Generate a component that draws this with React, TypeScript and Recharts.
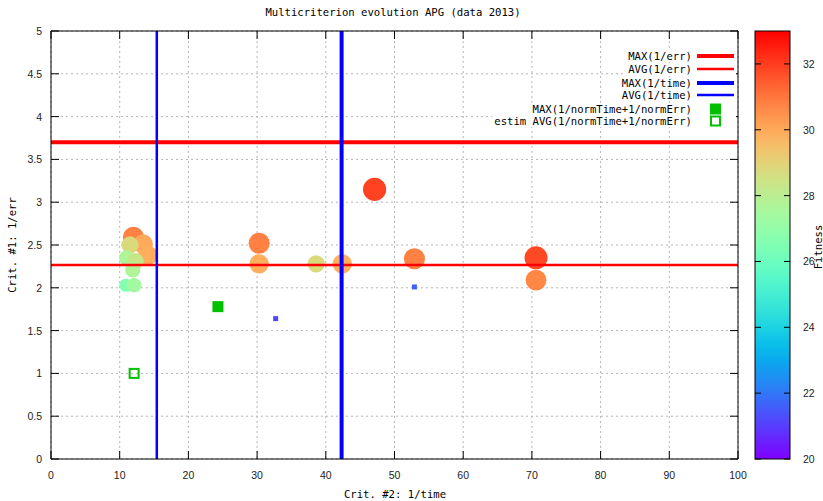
import React from "react";
import {
  ScatterChart,
  Scatter,
  XAxis,
  YAxis,
  CartesianGrid,
  ReferenceLine,
  ReferenceArea,
} from "recharts";

const W = 823;
const H = 501;
const PLOT = { left: 51, top: 31, right: 738, bottom: 459 };

// population: crit #2 (1/time), crit #1 (1/err), fitness
const popTime = [12.0, 13.4, 11.5, 14.1, 11.0, 12.3, 11.9, 10.9, 12.1, 30.3, 30.3, 38.6, 42.4, 47.1, 52.9, 52.9, 32.7, 70.6, 70.6];
const popErr = [2.59, 2.51, 2.5, 2.38, 2.35, 2.31, 2.21, 2.03, 2.03, 2.52, 2.28, 2.28, 2.28, 3.15, 2.34, 2.01, 1.64, 2.35, 2.09];
const popFitness = [30.8, 30.0, 28.8, 29.9, 27.7, 28.3, 27.7, 26.6, 27.4, 30.8, 29.9, 28.8, 29.9, 31.9, 30.8, 21.6, 21.2, 31.8, 30.7];

const maxErr = 3.7;
const avgErr = 2.265;
const maxTime = 42.3;
const avgTime = 15.4;

const bestPoint = [{ x: 24.3, y: 1.78 }];
const estimPoint = [{ x: 12.1, y: 1.0 }];

const xTicks = [0, 10, 20, 30, 40, 50, 60, 70, 80, 90, 100];
const yTicks = [0, 0.5, 1, 1.5, 2, 2.5, 3, 3.5, 4, 4.5, 5];
const cbTicks = [20, 22, 24, 26, 28, 30, 32];
const cbMin = 20;
const cbMax = 33;

const legendItems = [
  { label: "MAX(1/err)", kind: "line", color: "#ff0000", width: 4 },
  { label: "AVG(1/err)", kind: "line", color: "#ff0000", width: 2.5 },
  { label: "MAX(1/time)", kind: "line", color: "#0000ff", width: 4 },
  { label: "AVG(1/time)", kind: "line", color: "#0000ff", width: 2.5 },
  { label: "MAX(1/normTime+1/normErr)", kind: "fill", color: "#00c000", width: 0 },
  { label: "estim AVG(1/normTime+1/normErr)", kind: "open", color: "#00c000", width: 0 },
];

const population = popTime.map((x, i) => ({ x, y: popErr[i], fitness: popFitness[i] }));

const MONO = "'DejaVu Sans Mono', monospace";
const SANS = "'Liberation Sans', Arial, sans-serif";

// gnuplot rgbformulae 33,13,10
const palette = (v: number) => {
  const t = Math.min(1, Math.max(0, (v - cbMin) / (cbMax - cbMin)));
  const c = (n: number) => Math.round(Math.min(1, Math.max(0, n)) * 255);
  const r = c(Math.abs(2 * t - 0.5));
  const g = c(Math.sin(Math.PI * t));
  const b = c(Math.cos((Math.PI / 2) * t));
  return `rgb(${r},${g},${b})`;
};

const PopDot = (props: any) => {
  const { cx, cy, payload } = props;
  if (cx == null || cy == null) return null;
  const f = payload.fitness;
  if (f < 23) {
    return <rect x={cx - 2.5} y={cy - 2.5} width={5} height={5} fill={palette(f)} />;
  }
  const r = 0.95 * (f - cbMin) + 0.3;
  return <circle cx={cx} cy={cy} r={r} fill={palette(f)} />;
};

const BestDot = (props: any) => {
  const { cx, cy } = props;
  return <rect x={cx - 5.5} y={cy - 5.5} width={11} height={11} fill="#00c000" />;
};

const EstimDot = (props: any) => {
  const { cx, cy } = props;
  return <rect x={cx - 4.5} y={cy - 4.5} width={9} height={9} fill="none" stroke="#00c000" strokeWidth={2} />;
};

const XTick = (props: any) => {
  const { x, payload } = props;
  return (
    <g>
      <line x1={x} x2={x} y1={PLOT.bottom} y2={PLOT.bottom - 8} stroke="#000" />
      <line x1={x} x2={x} y1={PLOT.top} y2={PLOT.top + 8} stroke="#000" />
      <text x={x} y={PLOT.bottom + 20} textAnchor="middle" fontFamily={SANS} fontSize={10.5} fill="#222">
        {payload.value}
      </text>
    </g>
  );
};

const YTick = (props: any) => {
  const { y, payload } = props;
  return (
    <g>
      <line x1={PLOT.left} x2={PLOT.left + 8} y1={y} y2={y} stroke="#000" />
      <line x1={PLOT.right} x2={PLOT.right - 8} y1={y} y2={y} stroke="#000" />
      <text x={PLOT.left - 9} y={y + 4} textAnchor="end" fontFamily={SANS} fontSize={10.5} fill="#222">
        {payload.value}
      </text>
    </g>
  );
};

const Overlay = () => {
  const cb = { left: 755, right: 790, top: PLOT.top, bottom: PLOT.bottom };
  const cbY = (v: number) => cb.bottom - ((v - cbMin) / (cbMax - cbMin)) * (cb.bottom - cb.top);
  const stops = Array.from({ length: 27 }, (_, i) => i / 26);
  const rowY = [56, 69, 83, 95, 109, 121];
  return (
    <svg width={W} height={H} style={{ position: "absolute", left: 0, top: 0, pointerEvents: "none" }}>
      <defs>
        <linearGradient id="cbgrad" x1="0" y1="1" x2="0" y2="0">
          {stops.map((s) => (
            <stop key={s} offset={s} stopColor={palette(cbMin + s * (cbMax - cbMin))} />
          ))}
        </linearGradient>
      </defs>
      <text x={393} y={16} textAnchor="middle" fontFamily={MONO} fontSize={10.6} fill="#000">
        Multicriterion evolution APG (data 2013)
      </text>
      <text x={395} y={498} textAnchor="middle" fontFamily={MONO} fontSize={10.6} fill="#000">
        Crit. #2: 1/time
      </text>
      <text
        transform="translate(16,245) rotate(-90)"
        textAnchor="middle"
        fontFamily={MONO}
        fontSize={10.6}
        fill="#000"
      >
        Crit. #1: 1/err
      </text>

      {legendItems.map((it, i) => {
        const y = rowY[i];
        const textW = it.label.length * 6.38;
        return (
          <g key={it.label}>
            <rect x={692 - textW - 2} y={y - 6} width={textW + 46} height={12} fill="#fff" />
            <text x={692} y={y + 4} textAnchor="end" fontFamily={MONO} fontSize={10.6} fill="#000">
              {it.label}
            </text>
            {it.kind === "line" && (
              <line x1={697} x2={734} y1={y} y2={y} stroke={it.color} strokeWidth={it.width} />
            )}
            {it.kind === "fill" && <rect x={710} y={y - 5.5} width={11} height={11} fill={it.color} />}
            {it.kind === "open" && (
              <rect x={711} y={y - 4.5} width={9} height={9} fill="none" stroke={it.color} strokeWidth={2} />
            )}
          </g>
        );
      })}

      <rect x={cb.left} y={cb.top} width={cb.right - cb.left} height={cb.bottom - cb.top} fill="url(#cbgrad)" stroke="#000" />
      {cbTicks.map((t) => (
        <g key={t}>
          <line x1={cb.left} x2={cb.left + 6} y1={cbY(t)} y2={cbY(t)} stroke="#000" />
          <line x1={cb.right} x2={cb.right - 6} y1={cbY(t)} y2={cbY(t)} stroke="#000" />
          <text x={803} y={cbY(t) + 4} fontFamily={SANS} fontSize={10.5} fill="#222">
            {t}
          </text>
        </g>
      ))}
      <text
        transform="translate(822,247) rotate(-90)"
        textAnchor="middle"
        fontFamily={MONO}
        fontSize={10.6}
        fill="#000"
      >
        Fitness
      </text>
    </svg>
  );
};

export default function App() {
  return (
    <div style={{ position: "absolute", left: 0, top: 0, width: W, height: H, background: "#fff" }}>
      <ScatterChart
        width={W}
        height={H}
        margin={{ top: PLOT.top, right: W - PLOT.right, bottom: H - PLOT.bottom - 30, left: PLOT.left - 40 }}
      >
        <CartesianGrid stroke="#b4b4b4" strokeDasharray="2 3" />
        <XAxis
          type="number"
          dataKey="x"
          domain={[0, 100]}
          ticks={xTicks}
          height={30}
          tickSize={0}
          tickMargin={0}
          axisLine={false}
          tick={<XTick />}
          interval={0}
        />
        <YAxis
          type="number"
          dataKey="y"
          domain={[0, 5]}
          ticks={yTicks}
          width={40}
          tickSize={0}
          tickMargin={0}
          axisLine={false}
          tick={<YTick />}
          interval={0}
        />
        <Scatter data={population} shape={<PopDot />} isAnimationActive={false} />
        <Scatter data={bestPoint} shape={<BestDot />} isAnimationActive={false} />
        <Scatter data={estimPoint} shape={<EstimDot />} isAnimationActive={false} />
        <ReferenceLine y={maxErr} stroke="#ff0000" strokeWidth={4} zIndex={700} />
        <ReferenceLine y={avgErr} stroke="#ff0000" strokeWidth={2.5} zIndex={700} />
        <ReferenceLine x={maxTime} stroke="#0000ff" strokeWidth={4} zIndex={700} />
        <ReferenceLine x={avgTime} stroke="#0000ff" strokeWidth={2.5} zIndex={700} />
        <ReferenceArea x1={0} x2={100} y1={0} y2={5} fill="none" stroke="#000" strokeOpacity={1} zIndex={800} />
      </ScatterChart>
      <Overlay />
    </div>
  );
}
